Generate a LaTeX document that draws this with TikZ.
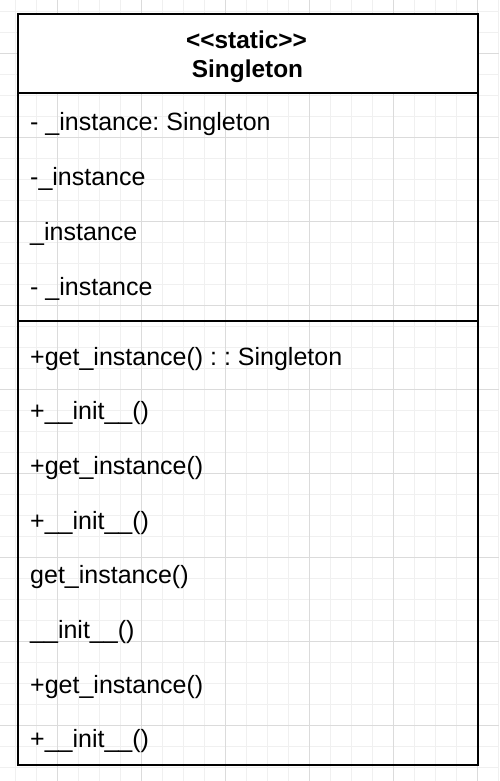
\documentclass[tikz,border=0pt]{standalone}
\usepackage{fontspec}
\setmainfont{Liberation Sans}
\frenchspacing
\begin{document}
\begin{tikzpicture}[x=1pt,y=-1pt,
  gridminor/.style={draw=black!6,line width=1pt},
  gridmajor/.style={draw=black!14,line width=1pt},
  frame/.style={draw=black,line width=2pt},
  member/.style={anchor=base west,inner sep=0pt,font=\fontsize{25}{30}\selectfont},
  caption/.style={anchor=base,inner sep=0pt,font=\fontsize{24.4}{29}\selectfont\bfseries}]
  \useasboundingbox (0,0) rectangle (499,781);
  % background grid
  \begin{scope}
    \clip (0,0) rectangle (499,781);
    \foreach \i in {0,...,23} {
      \draw[gridminor] (15.3+21*\i,0) -- (15.3+21*\i,781);
    }
    \foreach \i in {0,...,37} {
      \draw[gridminor] (0,11.3+21*\i) -- (499,11.3+21*\i);
    }
    \foreach \i in {0,...,5} {
      \draw[gridmajor] (57.3+84*\i,0) -- (57.3+84*\i,781);
    }
    \foreach \i in {0,...,8} {
      \draw[gridmajor] (0,53.3+84*\i) -- (499,53.3+84*\i);
    }
  \end{scope}
  % class box
  \fill[white] (18,13.7) rectangle (477.8,93.4);
  \draw[frame] (18,13.7) rectangle (477.8,765);
  \draw[frame] (18,93.4) -- (477.8,93.4);
  \draw[frame] (18,321) -- (477.8,321);
  % header
  \node[caption] (stereo) at (246.5,48.3) {<\kern0pt<static>\kern0pt>};
  \node[caption] (cname) at (247.5,77.3) {Singleton};
  % attributes
  \node[member] (a1) at (30,131) {- \_instance: Singleton};
  \node[member] (a2) at (30,185.7) {-\_instance};
  \node[member] (a3) at (30,240.4) {\_instance};
  \node[member] (a4) at (30,295.1) {- \_instance};
  % methods
  \node[member] (m1) at (30,365) {+get\_instance() : : Singleton};
  \node[member] (m2) at (30,419.7) {+\_\_init\_\_()};
  \node[member] (m3) at (30,474.4) {+get\_instance()};
  \node[member] (m4) at (30,529.1) {+\_\_init\_\_()};
  \node[member] (m5) at (30,583.8) {get\_instance()};
  \node[member] (m6) at (30,638.5) {\_\_init\_\_()};
  \node[member] (m7) at (30,693.2) {+get\_instance()};
  \node[member] (m8) at (30,747.9) {+\_\_init\_\_()};
\end{tikzpicture}
\end{document}
